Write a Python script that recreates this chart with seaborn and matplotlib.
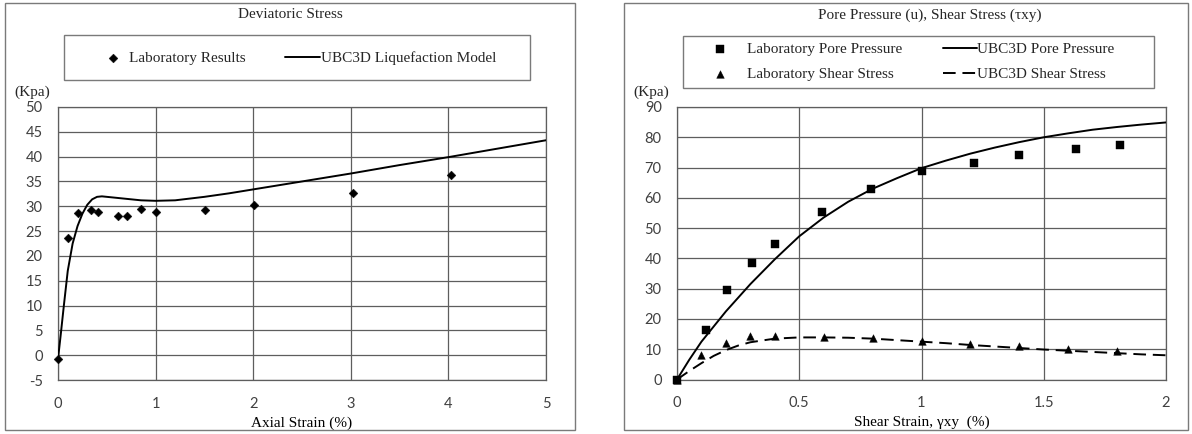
import matplotlib
matplotlib.use("Agg")
import matplotlib.pyplot as plt
from matplotlib.patches import Rectangle
import seaborn as sns
import pandas as pd

# ---- Deviatoric stress (left) ----
axial_lab = [0.0, 0.10, 0.20, 0.34, 0.41, 0.61, 0.71, 0.85, 1.00, 1.51, 2.01, 3.02, 4.03]
dev_lab = [-0.8, 23.6, 28.6, 29.2, 28.8, 28.1, 28.1, 29.4, 28.8, 29.2, 30.2, 32.7, 36.4]

axial_model = [0.0, 0.03, 0.06, 0.10, 0.15, 0.20, 0.25, 0.30, 0.35, 0.40, 0.45, 0.55,
               0.70, 0.85, 1.00, 1.20, 1.50, 1.75, 2.00, 2.50, 3.00, 3.50, 4.00, 4.50, 5.00]
dev_model = [-0.8, 4.5, 10.0, 17.0, 22.5, 26.0, 28.5, 30.3, 31.4, 31.9, 32.0, 31.8,
             31.5, 31.2, 31.1, 31.2, 31.9, 32.6, 33.4, 35.0, 36.6, 38.3, 39.9, 41.6, 43.3]

# ---- Pore pressure / shear stress (right) ----
shear_strain_lab = [0.0, 0.12, 0.205, 0.307, 0.40, 0.595, 0.795, 1.00, 1.215, 1.40, 1.63, 1.81]
pore_lab = [0.0, 16.3, 29.4, 38.6, 44.7, 55.2, 63.0, 68.9, 71.5, 74.0, 76.0, 77.4]

tau_strain_lab = [0.0, 0.10, 0.20, 0.30, 0.40, 0.60, 0.80, 1.00, 1.20, 1.40, 1.60, 1.80]
tau_lab = [0.0, 8.0, 12.2, 14.3, 14.5, 14.2, 13.6, 12.7, 11.8, 11.0, 10.1, 9.4]

strain_model = [0.0, 0.05, 0.10, 0.15, 0.20, 0.25, 0.30, 0.40, 0.50, 0.60, 0.70, 0.80,
                0.90, 1.00, 1.10, 1.20, 1.30, 1.40, 1.50, 1.60, 1.70, 1.80, 1.90, 2.00]
pore_model = [0.0, 6.5, 12.5, 17.5, 22.5, 27.0, 31.5, 39.7, 47.3, 53.5, 58.7, 63.0,
              66.5, 69.8, 72.3, 74.6, 76.6, 78.4, 80.0, 81.3, 82.5, 83.4, 84.2, 84.9]
tau_model = [0.0, 2.8, 5.4, 7.8, 9.7, 11.2, 12.3, 13.5, 13.9, 13.9, 13.8, 13.5,
             13.0, 12.5, 12.0, 11.4, 10.9, 10.4, 9.9, 9.5, 9.1, 8.7, 8.3, 8.0]

left_xticks = [0, 1, 2, 3, 4, 5]
left_yticks = [-5, 0, 5, 10, 15, 20, 25, 30, 35, 40, 45, 50]
right_xticks = [0, 0.5, 1, 1.5, 2]
right_xticklabels = ["0", "0.5", "1", "1.5", "2"]
right_yticks = [0, 10, 20, 30, 40, 50, 60, 70, 80, 90]

sns.set_theme(style="white")
SERIF = ["Liberation Serif", "DejaVu Serif"]
SANS = ["Lato", "DejaVu Sans"]
plt.rcParams["font.family"] = SERIF

W, H = 1192, 434
fig = plt.figure(figsize=(W / 100, H / 100), dpi=100)


def fx(px):
    return px / W


def fy(py):
    return 1 - py / H


GRID = "#5e5e5e"
FRAME = "#7a7a7a"
TICKC = "#404040"


def frame(x0, y0, x1, y1, lw=1.0, color=FRAME):
    fig.add_artist(Rectangle((fx(x0), fy(y1)), fx(x1) - fx(x0), fy(y0) - fy(y1),
                             transform=fig.transFigure, fill=False,
                             edgecolor=color, linewidth=lw))


def style_axes(ax, xlim, ylim, xticks, yticks, xticklabels=None):
    ax.set_xlim(*xlim)
    ax.set_ylim(*ylim)
    ax.set_xticks(xticks)
    ax.set_yticks(yticks)
    if xticklabels is None:
        xticklabels = [str(t) for t in xticks]
    ax.set_xticklabels(xticklabels)
    ax.set_yticklabels([str(t) for t in yticks])
    for lab in ax.get_xticklabels() + ax.get_yticklabels():
        lab.set_fontfamily(SANS)
        lab.set_fontsize(10.5)
        lab.set_color(TICKC)
    ax.tick_params(axis="x", length=0, pad=12)
    ax.tick_params(axis="y", length=0, pad=11)
    ax.grid(True, color=GRID, linewidth=0.9)
    ax.set_axisbelow(True)
    for s in ax.spines.values():
        s.set_color(GRID)
        s.set_linewidth(0.9)
    ax.set_facecolor("white")


def legend_column(handles, labels, x_px, y_px, handlelength, textpad, spacing=0.6):
    fig.legend(handles, labels, loc="center left", bbox_to_anchor=(fx(x_px), fy(y_px)),
               bbox_transform=fig.transFigure, frameon=False, fontsize=11,
               handlelength=handlelength, handletextpad=textpad, borderpad=0,
               borderaxespad=0, labelspacing=spacing, scatterpoints=1)


# panel frames
frame(5, 3, 575, 430)
frame(624, 3, 1188, 430)

# ---------- left chart ----------
axL = fig.add_axes([fx(58), fy(380), fx(546) - fx(58), fy(107) - fy(380)])
lab_df = pd.DataFrame({"strain": axial_lab, "q": dev_lab})
mod_df = pd.DataFrame({"strain": axial_model, "q": dev_model})
sns.scatterplot(data=lab_df, x="strain", y="q", ax=axL, marker="D", s=20,
                color="black", edgecolor="black", linewidth=0.3, clip_on=False,
                zorder=4, label="Laboratory Results")
sns.lineplot(data=mod_df, x="strain", y="q", ax=axL, sort=False, estimator=None,
             color="black", linewidth=1.4, zorder=3, label="UBC3D Liquefaction Model")
style_axes(axL, (0, 5), (-5, 50), left_xticks, left_yticks)
axL.set_xlabel("Axial Strain (%)", fontsize=11, color="black", labelpad=4)
axL.set_ylabel("")
hL, lL = axL.get_legend_handles_labels()
if axL.legend_:
    axL.legend_.remove()
# marker column then line column
legend_column(hL[:1], lL[:1], 104, 58, 1.2, 0.45)
legend_column(hL[1:], lL[1:], 285, 58, 2.3, 0.05)
frame(64, 35, 530, 80)
fig.text(fx(290), fy(15), "Deviatoric Stress", ha="center", va="center", fontsize=11)
fig.text(fx(32), fy(92), "(Kpa)", ha="center", va="center", fontsize=11)

# ---------- right chart ----------
axR = fig.add_axes([fx(677), fy(379.5), fx(1166) - fx(677), fy(107) - fy(379.5)])
pore_df = pd.DataFrame({"strain": shear_strain_lab, "u": pore_lab})
tau_df = pd.DataFrame({"strain": tau_strain_lab, "tau": tau_lab})
model_df = pd.DataFrame({"strain": strain_model, "u": pore_model, "tau": tau_model})
sns.scatterplot(data=pore_df, x="strain", y="u", ax=axR, marker="s", s=30,
                color="black", edgecolor="black", linewidth=0.3, clip_on=False,
                zorder=5, label="Laboratory Pore Pressure")
sns.scatterplot(data=tau_df, x="strain", y="tau", ax=axR, marker="^", s=30,
                color="black", edgecolor="black", linewidth=0.3, clip_on=False,
                zorder=5, label="Laboratory Shear Stress")
sns.lineplot(data=model_df, x="strain", y="u", ax=axR, sort=False, estimator=None,
             color="black", linewidth=1.4, zorder=3, label="UBC3D Pore Pressure")
sns.lineplot(data=model_df, x="strain", y="tau", ax=axR, sort=False, estimator=None,
             color="black", linewidth=1.4, zorder=3, linestyle=(0, (6.5, 3.5)),
             label="UBC3D Shear Stress")
style_axes(axR, (0, 2), (0, 90), right_xticks, right_yticks, right_xticklabels)
axR.set_xlabel("Shear Strain, \u03b3xy  (%)", fontsize=11, color="black", labelpad=4)
axR.set_ylabel("")
hR, lR = axR.get_legend_handles_labels()
if axR.legend_:
    axR.legend_.remove()
legend_column(hR[:2], lR[:2], 709, 62, 1.5, 1.0, spacing=0.75)
legend_column(hR[2:], lR[2:], 943, 62, 2.2, 0.05, spacing=0.75)
frame(683, 36, 1154, 88)
fig.text(fx(930), fy(15), "Pore Pressure (u), Shear Stress (\u03c4xy)", ha="center",
         va="center", fontsize=11)
fig.text(fx(651), fy(92), "(Kpa)", ha="center", va="center", fontsize=11)

fig.savefig("out.png", dpi=100, facecolor="white")
